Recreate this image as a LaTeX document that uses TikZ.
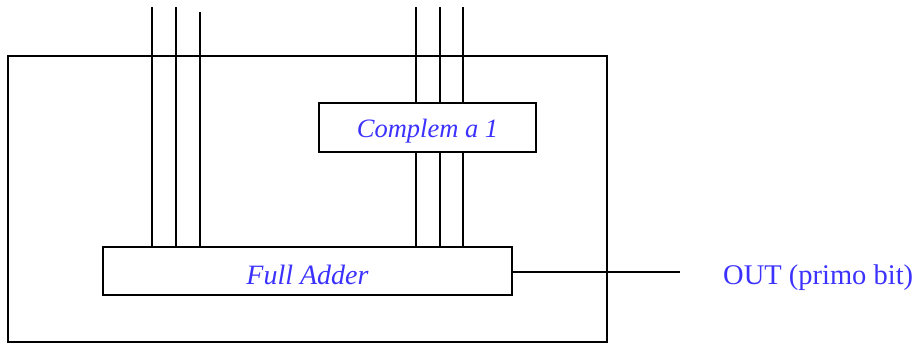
\documentclass[tikz,border=0pt]{standalone}
\usepackage{fontspec}
\setmainfont{Liberation Serif}
\definecolor{labelblue}{RGB}{60,50,255}
\usetikzlibrary{positioning}

\begin{document}
\begin{tikzpicture}[x=1pt, y=-1pt,
      wire/.style={line width=2pt, black},
      frame/.style={draw, line width=2pt, inner sep=0pt, outer sep=0pt},
      block/.style={draw, line width=2.8pt, fill=white, inner sep=0pt,
                    font=\itshape\fontsize{28}{30}\selectfont, text=labelblue},
      outlbl/.style={font=\fontsize{28.5}{30}\selectfont, text=labelblue, inner sep=0pt}
    ]
    \useasboundingbox (0,0) rectangle (917,343);
    % outer unit
    \node[frame, minimum width=599pt, minimum height=286pt, anchor=north west] (unit) at (8,56) {};
    % blocks
    \node[block, minimum width=409pt, minimum height=48pt,
          text height=26pt, text depth=0pt] (fa) at (307.5,271) {Full Adder};
    \node[block, minimum width=217pt, minimum height=49pt, text height=19pt, text depth=0pt,
          font=\itshape\fontsize{26.5}{28}\selectfont] (cpl) at (427.5,127.5) {Complem a 1};
    % inputs to the adder
    \foreach \x/\t [count=\i] in {152/7,176/7,200/11.5} {
      \coordinate (lin\i) at (\x,\t);
      \draw[wire] (lin\i) -- (lin\i |- fa.north);
    }
    % inputs through the complement block
    \foreach \x [count=\i] in {416,440,463} {
      \coordinate (rin\i) at (\x,7);
      \draw[wire] (rin\i) -- (rin\i |- cpl.north);
      \draw[wire] (rin\i |- cpl.south) -- (rin\i |- fa.north);
    }
    % output
    \coordinate (outend) at (680,272);
    \draw[wire] (fa.east |- outend) -- (outend);
    \node[outlbl, anchor=base west] (out) at (723,284) {OUT (primo bit)};
  \end{tikzpicture}
\end{document}
